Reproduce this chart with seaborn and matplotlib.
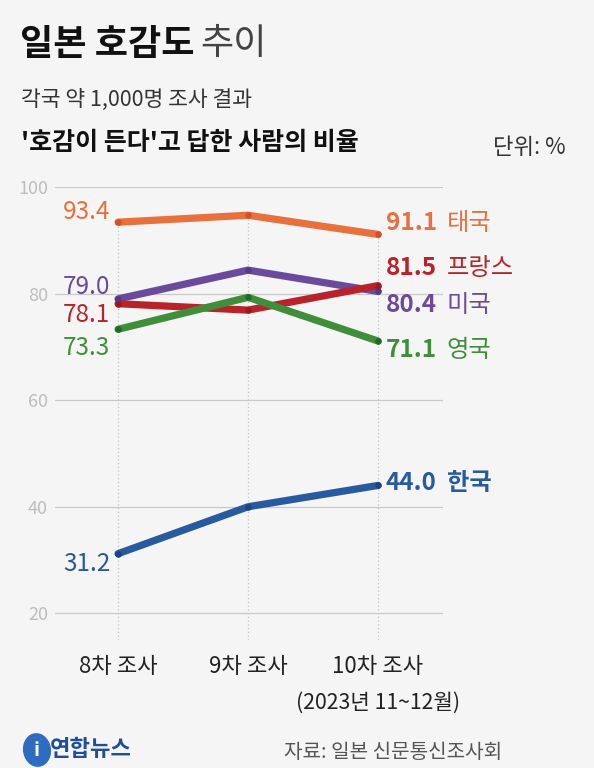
import matplotlib.pyplot as plt
import matplotlib.patches as mpatches
import pandas as pd
import seaborn as sns

# data
rounds = ['8차 조사', '9차 조사', '10차 조사']
countries = ['한국', '미국', '프랑스', '영국', '태국']
values = {
    '태국': [93.4, 94.7, 91.1],
    '프랑스': [78.1, 76.9, 81.5],
    '미국': [79.0, 84.4, 80.4],
    '영국': [73.3, 79.3, 71.1],
    '한국': [31.2, 40.0, 44.0],
}
colors = {
    '태국': '#e8703c',
    '프랑스': '#b8232a',
    '미국': '#6a4a9c',
    '영국': '#3f8f3a',
    '한국': '#285aa0',
}
dots = {
    '태국': '#d4502a',
    '프랑스': '#9a1a20',
    '미국': '#54388a',
    '영국': '#1f6b28',
    '한국': '#1c447e',
}
# label heights (data units) so the labels don't overlap
left_label_y = {'태국': 95.3, '미국': 81.2, '프랑스': 75.9, '영국': 69.7, '한국': 29.3}
right_label_y = {'태국': 93.2, '프랑스': 84.8, '미국': 77.8, '영국': 69.5, '한국': 44.5}

rows = []
for c in countries:
    for r, v in zip(rounds, values[c]):
        rows.append({'round': r, 'value': v, 'country': c})
df = pd.DataFrame(rows)

sns.set_theme(style='white')
plt.rcParams['font.family'] = ['Noto Sans CJK KR', 'DejaVu Sans']
bg = '#f5f5f5'

fig = plt.figure(figsize=(5.94, 7.68), dpi=100, facecolor=bg)
ax = fig.add_axes([55 / 594, 1 - 640 / 768, (443 - 55) / 594, (640 - 187) / 768])
ax.set_facecolor(bg)

# grid
for y in [20, 40, 60, 80, 100]:
    ax.axhline(y, color='#c9c9c9', lw=0.9, zorder=0)
for i in range(3):
    top = max(values[c][i] for c in countries)
    ax.plot([i, i], [15, top], color='#c4c4c4', lw=0.9, ls=(0, (1, 2)), zorder=0)

sns.lineplot(data=df, x='round', y='value', hue='country', hue_order=countries,
             palette=colors, linewidth=5.2, legend=False, ax=ax, sort=False,
             solid_capstyle='round')
for c in countries:
    ax.scatter(range(3), values[c], s=22, color=dots[c], zorder=5, lw=0)

ax.set_xlim(-0.485, 2.5)
ax.set_ylim(15, 100)
ax.set_yticks([20, 40, 60, 80, 100])
ax.set_yticklabels(['20', '40', '60', '80', '100'], color='#bdbdbd', fontsize=13)
ax.tick_params(axis='y', length=0, pad=5)
ax.set_xticks([])
ax.set_xlabel('')
ax.set_ylabel('')
for s in ax.spines.values():
    s.set_visible(False)

# value labels
for c in countries:
    ax.text(-0.06, left_label_y[c], f'{values[c][0]:.1f}', color=colors[c],
            fontsize=17.5, ha='right', va='center')
    ax.text(2.06, right_label_y[c], f'{values[c][2]:.1f}', color=colors[c],
            fontsize=17.5, fontweight='bold', ha='left', va='center')
    ax.text(2.53, right_label_y[c], c, color=colors[c], fontsize=17.5,
            fontweight='bold' if c == '한국' else 'normal', ha='left', va='center')

# x category labels
for i, r in enumerate(rounds):
    ax.text(i, 10.0, r, ha='center', va='center', fontsize=16, color='#222222')
ax.text(2, 3.3, '(2023년 11~12월)', ha='center', va='center', fontsize=15.3, color='#222222')

# titles
fig.text(20 / 594, 1 - 44 / 768, '일본 호감도', fontsize=26, fontweight='bold',
         color='#111111', va='center')
fig.text(200 / 594, 1 - 44 / 768, '추이', fontsize=26, fontweight='light',
         color='#444444', va='center')
fig.text(21 / 594, 1 - 101 / 768, '각국 약 1,000명 조사 결과', fontsize=15.5,
         color='#333333', va='center')
fig.text(21 / 594, 1 - 143 / 768, "'호감이 든다'고 답한 사람의 비율", fontsize=18,
         fontweight='bold', color='#111111', va='center')
fig.text(566 / 594, 1 - 147 / 768, '단위: %', fontsize=16, color='#333333',
         va='center', ha='right')

# footer
logo = mpatches.Ellipse((37 / 594, 1 - 750 / 768), 27 / 594, 32 / 768, angle=-20,
                        transform=fig.transFigure, color='#2d6cc0', zorder=3)
fig.patches.append(logo)
fig.text(37 / 594, 1 - 750 / 768, 'i', fontsize=14, fontweight='bold', color='white',
         ha='center', va='center', style='italic')
fig.text(50 / 594, 1 - 750 / 768, '연합뉴스', fontsize=16, fontweight='bold',
         color='#1f4f96', va='center')
fig.text(502 / 594, 1 - 752 / 768, '자료: 일본 신문통신조사회', fontsize=14.5,
         color='#555555', va='center', ha='right')

fig.savefig('out.png', dpi=100, facecolor=bg)
